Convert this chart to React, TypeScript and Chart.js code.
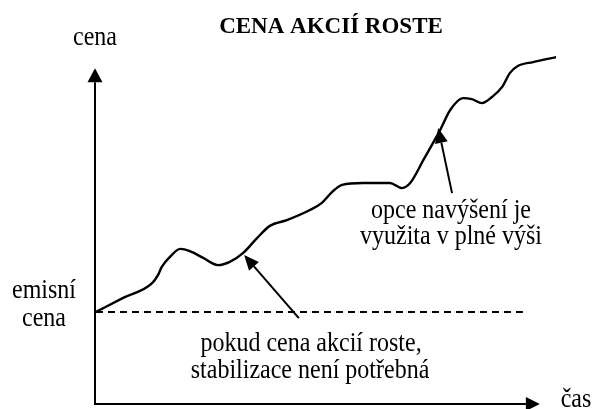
import React, { useEffect, useRef } from "react";
import { Chart, registerables } from "chart.js";

Chart.register(...registerables);

// ---- data ----
const timePoints = [0, 5.9, 12.2, 13.5, 14.3, 16.1, 18.3, 20.4, 23.3, 26.5, 29.1, 32.0, 35.0, 37.8, 41.5, 46.5, 49.1, 51.3, 53.5, 58.0, 63.9, 66.5, 68.3, 71.3, 74.8, 77.0, 79.8, 81.7, 83.9, 86.1, 88.3, 90.0, 91.7, 95.0, 100.2];
const pricePoints = [25.3, 29.2, 33.3, 35.6, 37.8, 40.6, 42.8, 42.2, 40.3, 38.3, 39.2, 41.7, 45.8, 49.2, 50.8, 53.6, 55.6, 58.6, 60.6, 61.1, 61.1, 59.7, 61.1, 67.8, 75.8, 81.4, 84.7, 84.4, 83.3, 85.0, 87.8, 91.7, 93.6, 94.7, 96.1];
const emissionPrice = 25.3;
const emissionLineEnd = 92.8;
const timeRange = [0, 100];
const priceRange = [0, 100];
const axisTop = 93; // price where the vertical axis arrow ends
const axisRight = 96.5; // time where the horizontal axis arrow ends

const titleText = "CENA AKCIÍ ROSTE";
const yAxisLabel = "cena";
const xAxisLabel = "čas";
const emissionLabel = ["emisní", "cena"];
const noteStable = ["pokud cena akcií roste,", "stabilizace není potřebná"];
const noteOption = ["opce navýšení je", "využita v plné výši"];
// annotation arrows: [tailTime, tailPrice, tipTime, tipPrice]
const arrowStable = [44.1, 23.6, 32.2, 41.1];
const arrowOption = [77.4, 58.3, 74.4, 76.4];

const FONT = "'Liberation Serif', 'Times New Roman', serif";
const TEXT_STRETCH = 1.18;

function drawArrow(ctx: CanvasRenderingContext2D, x1: number, y1: number, x2: number, y2: number, len: number, half: number, lw: number) {
  const ang = Math.atan2(y2 - y1, x2 - x1);
  const bx = x2 - Math.cos(ang) * len;
  const by = y2 - Math.sin(ang) * len;
  ctx.save();
  ctx.strokeStyle = "#000";
  ctx.fillStyle = "#000";
  ctx.lineWidth = lw;
  ctx.setLineDash([]);
  ctx.beginPath();
  ctx.moveTo(x1, y1);
  ctx.lineTo(bx, by);
  ctx.stroke();
  ctx.beginPath();
  ctx.moveTo(x2, y2);
  ctx.lineTo(bx + Math.sin(ang) * half, by - Math.cos(ang) * half);
  ctx.lineTo(bx - Math.sin(ang) * half, by + Math.cos(ang) * half);
  ctx.closePath();
  ctx.fill();
  ctx.restore();
}

function stretchedText(ctx: CanvasRenderingContext2D, text: string, x: number, y: number) {
  ctx.save();
  ctx.translate(x, y);
  ctx.scale(1, TEXT_STRETCH);
  ctx.fillText(text, 0, 0);
  ctx.restore();
}

const overlayPlugin = {
  id: "overlay",
  afterDatasetsDraw(chart: any) {
    const ctx: CanvasRenderingContext2D = chart.ctx;
    const sx = chart.scales.x;
    const sy = chart.scales.y;
    const X = (v: number) => sx.getPixelForValue(v);
    const Y = (v: number) => sy.getPixelForValue(v);
    const x0 = X(timeRange[0]);
    const y0 = Y(priceRange[0]) + 1;

    // axes
    drawArrow(ctx, x0 - 1, y0, x0 - 1, Y(axisTop), 14, 7.5, 2);
    drawArrow(ctx, x0 - 2, y0, X(axisRight), y0, 14, 7, 2);

    // annotation arrows
    drawArrow(ctx, X(arrowStable[0]), Y(arrowStable[1]), X(arrowStable[2]), Y(arrowStable[3]), 15, 6.5, 2);
    drawArrow(ctx, X(arrowOption[0]), Y(arrowOption[1]), X(arrowOption[2]), Y(arrowOption[3]), 15, 6.5, 2);

    // texts
    ctx.save();
    ctx.fillStyle = "#000";
    ctx.textAlign = "center";
    ctx.textBaseline = "alphabetic";
    ctx.font = `bold 23px ${FONT}`;
    ctx.fillText(titleText, 331, 33);
    ctx.font = `24px ${FONT}`;
    stretchedText(ctx, yAxisLabel, 95, 45);
    stretchedText(ctx, emissionLabel[0], 44, 298);
    stretchedText(ctx, emissionLabel[1], 44, 326);
    stretchedText(ctx, noteStable[0], 311, 351);
    stretchedText(ctx, noteStable[1], 310, 378);
    stretchedText(ctx, noteOption[0], 451, 218);
    stretchedText(ctx, noteOption[1], 451, 244);
    stretchedText(ctx, xAxisLabel, 576, 407);
    ctx.restore();
  },
};

export default function App() {
  const ref = useRef<HTMLCanvasElement | null>(null);
  useEffect(() => {
    document.body.style.margin = "0";
    if (!ref.current) return;
    const chart = new Chart(ref.current, {
      type: "line",
      data: {
        datasets: [
          {
            data: timePoints.map((t, i) => ({ x: t, y: pricePoints[i] })),
            borderColor: "#000",
            borderWidth: 2.4,
            pointRadius: 0,
            cubicInterpolationMode: "monotone",
            fill: false,
          },
          {
            data: [
              { x: timeRange[0], y: emissionPrice },
              { x: emissionLineEnd, y: emissionPrice },
            ],
            borderColor: "#000",
            borderWidth: 2,
            borderDash: [7, 5],
            pointRadius: 0,
            fill: false,
          },
        ],
      },
      options: {
        animation: false,
        responsive: true,
        maintainAspectRatio: false,
        layout: { padding: { left: 96, right: 40, top: 43, bottom: 6 } },
        plugins: { legend: { display: false }, tooltip: { enabled: false }, title: { display: false } },
        scales: {
          x: { type: "linear", min: timeRange[0], max: timeRange[1], display: false },
          y: { type: "linear", min: priceRange[0], max: priceRange[1], display: false },
        },
      },
      plugins: [overlayPlugin],
    } as any);
    return () => chart.destroy();
  }, []);
  return (
    <div style={{ width: 596, height: 409, position: "relative", background: "#fff" }}>
      <canvas ref={ref} />
    </div>
  );
}
